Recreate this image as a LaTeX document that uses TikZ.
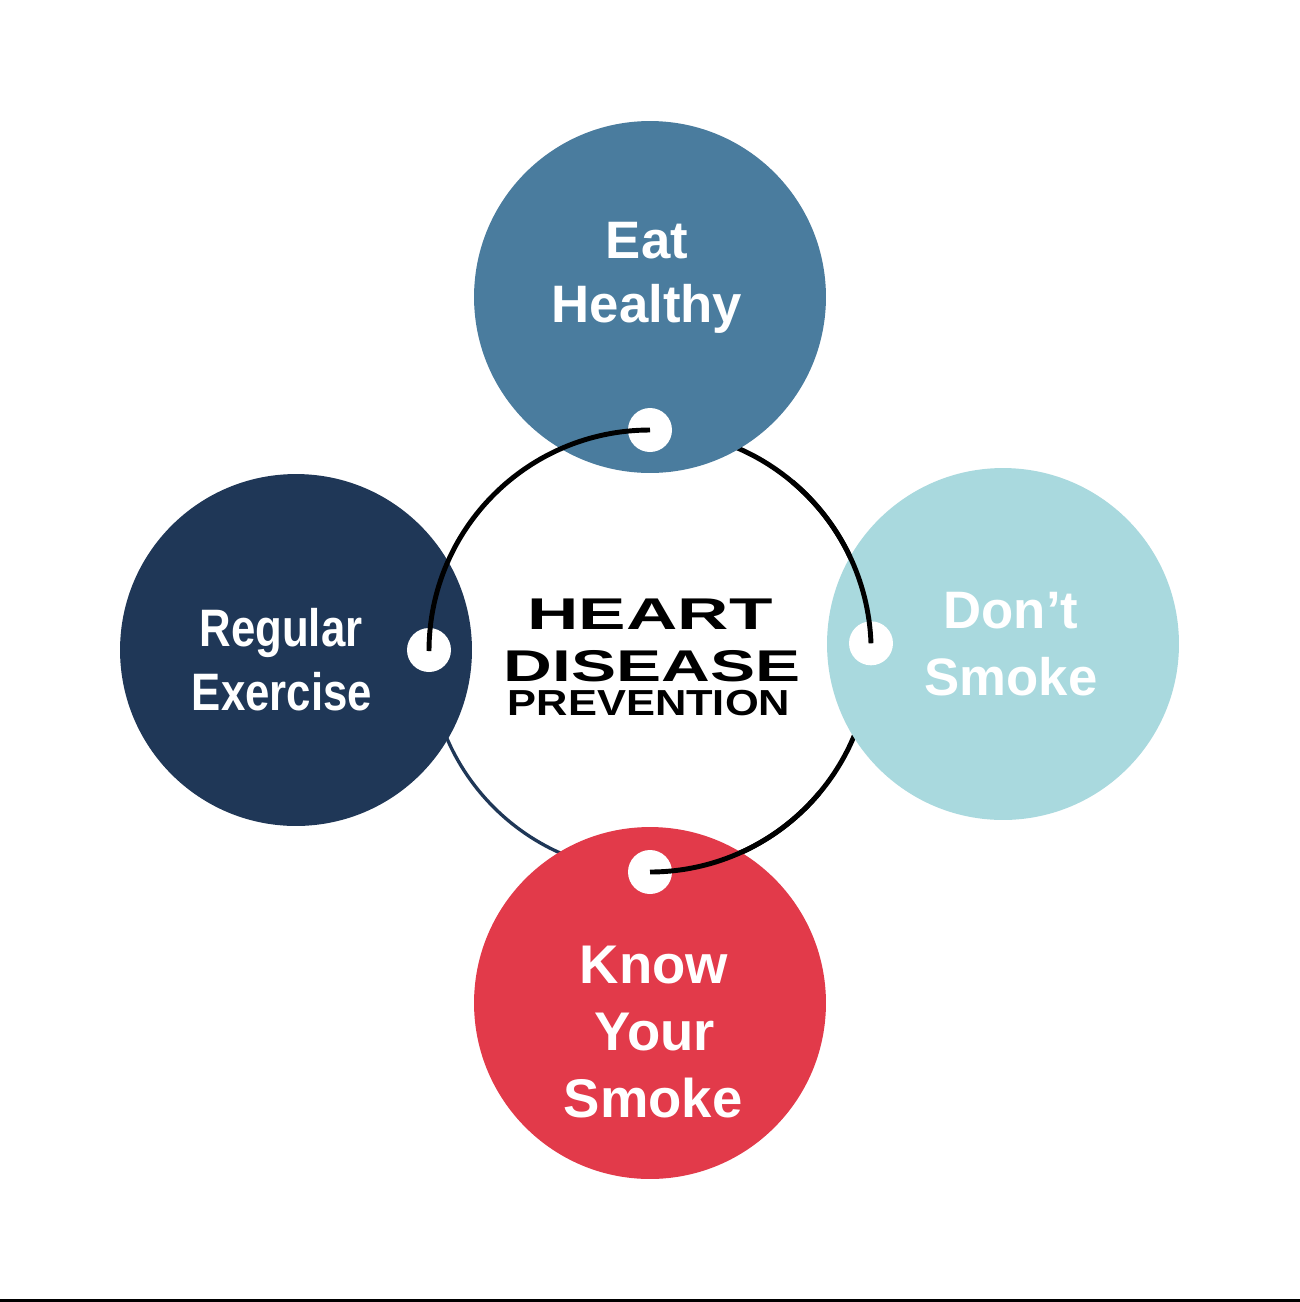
\documentclass[tikz,border=0pt]{standalone}
\usepackage{fontspec}
\setmainfont{Liberation Sans}
\usepackage{xcolor}

\definecolor{eatblue}{HTML}{4A7C9E}
\definecolor{exnavy}{HTML}{1F3757}
\definecolor{smokeaqua}{HTML}{A9D9DE}
\definecolor{knowred}{HTML}{E23A4A}

\tikzset{
    bubble/.style={circle, minimum size=7.04cm, inner sep=0pt},
    hole/.style={circle, fill=white, minimum size=0.88cm, inner sep=0pt},
    ring/.style={line width=2.8pt},
    tag/.style={text=white, anchor=base, inner sep=0pt, font=\bfseries\fontsize{30}{36}\selectfont},
    title/.style={text=black, anchor=base, inner sep=0pt, font=\bfseries\fontsize{25.3}{30}\selectfont}
}

\begin{document}
\begin{tikzpicture}[x=0.02cm, y=-0.02cm]
    \useasboundingbox (0,0) rectangle (1300,1302);
    \fill[white] (0,0) rectangle (1300,1302);

    % Center ring (under the bubbles)
    \draw[ring] (650,430) arc[start angle=-90, end angle=90, radius=221];
    \draw[ring, exnavy, line width=1.9pt] (650,872) arc[start angle=90, end angle=270, radius=221];

    % Bubbles
    \node[bubble, fill=eatblue] (eat) at (650,297) {};
    \node[bubble, fill=exnavy] (exercise) at (296,650) {};
    \node[bubble, fill=smokeaqua] (smoke) at (1003,644) {};
    \node[bubble, fill=knowred] (know) at (650,1003) {};

    % Holes
    \node[hole] (eatdot) at (650,430) {};
    \node[hole] (exdot) at (429,650) {};
    \node[hole] (smokedot) at (871,643.3) {};
    \node[hole] (knowdot) at (650,872) {};

    % Ring ends over the bubbles
    \draw[ring] (eatdot.center) arc[start angle=-90, end angle=-180, radius=221];
    \draw[ring] (smokedot.center) arc[start angle=-2, end angle=-50, radius=221];
    \draw[ring] (knowdot.center) arc[start angle=90, end angle=40, radius=221];

    % Eat healthy
    \node[tag] (eat1) at (647,258) {Eat};
    \node[tag] (eat2) at (647,322) {Healthy};

    % Regular exercise
    \node[tag] (ex1) at (281,646) {\scalebox{0.83}[1]{Regular}};
    \node[tag] (ex2) at (282,710) {\scalebox{0.83}[1]{Exercise}};

    % Don't smoke
    \node[tag] (smoke1) at (1011,628) {Don’t};
    \node[tag] (smoke2) at (1011,695) {Smoke};

    % Know your smoke
    \node[tag, font=\bfseries\fontsize{31}{37}\selectfont] (know1) at (654,983) {Know};
    \node[tag, font=\bfseries\fontsize{31}{37}\selectfont] (know2) at (655,1050) {Your};
    \node[tag, font=\bfseries\fontsize{31}{37}\selectfont] (know3) at (653,1117) {Smoke};

    % Title
    \node[title] (title1) at (650,629) {\scalebox{1.6}[1]{HEART}};
    \node[title] (title2) at (652,681) {\scalebox{1.52}[1]{DISEASE}};
    \node[title, font=\bfseries\fontsize{20.6}{25}\selectfont] (title3) at (649,715) {\scalebox{1.2}[1]{PREVENTION}};

    % Bottom rule
    \fill (0,1299) rectangle (1300,1302);
\end{tikzpicture}
\end{document}
